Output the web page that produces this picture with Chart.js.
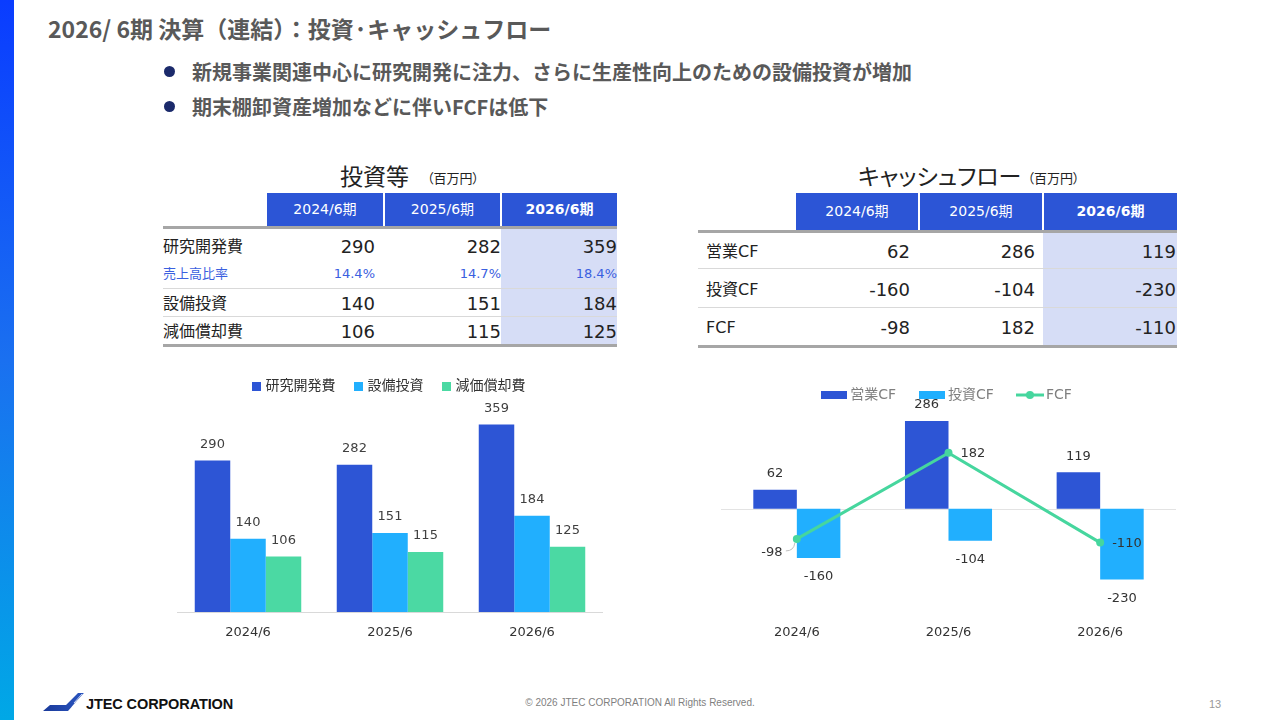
<!DOCTYPE html>
<html><head><meta charset="utf-8">
<script src="https://cdn.jsdelivr.net/npm/chart.js@4.4.1/dist/chart.umd.min.js"></script>
<style>
body{margin:0;width:1280px;height:720px;overflow:hidden;background:#fff;font-family:"Noto Sans CJK JP",sans-serif;position:relative}
#sidebar{position:absolute;left:0;top:0;width:14px;height:720px;background:linear-gradient(#0a3cff,#1a70f0 50%,#00a8e6)}
#title{position:absolute;left:48px;top:11px;font-size:23px;font-weight:bold;color:#595959;line-height:34px;white-space:nowrap}
.bullet{position:absolute;left:164px;font-size:20px;font-weight:bold;color:#595959;line-height:28px;white-space:nowrap}
.bullet .dot{position:absolute;left:0;top:8px;width:11px;height:11px;border-radius:50%;background:#1b2a6b}
.bullet .txt{margin-left:28px}
.ttl{position:absolute;font-size:23px;color:#222;line-height:30px;white-space:nowrap;font-feature-settings:"palt"}
.ttl small{font-size:13px;margin-left:18px;vertical-align:2px}
table{position:absolute;border-collapse:collapse;table-layout:fixed;font-family:"DejaVu Sans","Noto Sans CJK JP",sans-serif;color:#222}
th{background:#2c55d6;color:#fff;font-weight:normal;font-size:14px;padding:0;border-left:2px solid #fff;border-bottom:3px solid #a6a6a6}
th.blank{background:#fff;border-left:none}
th.cur{font-weight:bold}
th div,td div{overflow:visible;white-space:nowrap}
td{padding:0;font-size:18px;text-align:right;white-space:nowrap}
td span{position:relative}
td.lab{text-align:left;font-size:16px}
td.cur{background:#d6ddf6}
tr.pct td{font-size:13px;color:#3a60e0}
tr.sep td{border-bottom:1px solid #d9d9d9}
tr.last td{border-bottom:3px solid #a6a6a6}
canvas{position:absolute}
#foot{position:absolute;left:0;top:697px;width:1280px;text-align:center;font-family:"Liberation Sans",Arial,sans-serif;font-size:10px;color:#7f7f7f}
#page{position:absolute;left:1209px;top:698px;font-family:"Liberation Sans",Arial,sans-serif;font-size:11px;color:#999}
#logo{position:absolute;left:42px;top:692px}
#logotxt{position:absolute;left:86px;top:696px;font-family:"Liberation Sans",Arial,sans-serif;font-weight:bold;font-size:14.5px;color:#111;letter-spacing:-0.1px}
</style></head>
<body>
<div id="sidebar"></div>
<div id="title">2026/ 6期 決算（連結）：投資·キャッシュフロー</div>
<div class="bullet" style="top:58px"><span class="dot"></span><span class="txt">新規事業関連中心に研究開発に注力、さらに生産性向上のための設備投資が増加</span></div>
<div class="bullet" style="top:93px"><span class="dot"></span><span class="txt">期末棚卸資産増加などに伴いFCFは低下</span></div>

<div class="ttl" style="left:340px;top:160px">投資等<small>（百万円）</small></div>
<div class="ttl" style="left:858px;top:160px">キャッシュフロー<small style="margin-left:6px">（百万円）</small></div>

<table id="t1" style="left:163px;top:193px;width:454px"></table>
<table id="t2" style="left:698px;top:193px;width:479px"></table>

<canvas id="c1" width="426" height="290" style="left:177px;top:358px"></canvas>
<canvas id="c2" width="455" height="286" style="left:721px;top:361px"></canvas>

<svg id="logo" width="44" height="22" viewBox="0 0 44 22">
<defs><linearGradient id="lg" x1="0" x2="1"><stop offset="0" stop-color="#1a3a9a"/><stop offset="1" stop-color="#2a55c0"/></linearGradient></defs>
<polygon points="1,19 8,13 24,13 36,1 42,1 26,19" fill="url(#lg)"/>
<g stroke="#fff" stroke-width="0.8">
<line x1="28" y1="19" x2="44" y2="1"/><line x1="30" y1="15" x2="42" y2="1.5"/><line x1="32" y1="11" x2="40" y2="2"/>
</g>
</svg>
<div id="logotxt">JTEC CORPORATION</div>
<div id="foot">© 2026 JTEC CORPORATION All Rights Reserved.</div>
<div id="page">13</div>

<script>
// ---- data ----
const categories = ['2024/6', '2025/6', '2026/6'];
const periodLabels = ['2024/6期', '2025/6期', '2026/6期'];
const rdValues = [290, 282, 359];
const rdSalesRatio = ['14.4%', '14.7%', '18.4%'];
const capexValues = [140, 151, 184];
const deprValues = [106, 115, 125];
const operatingCF = [62, 286, 119];
const investingCF = [-160, -104, -230];
const freeCF = [-98, 182, -110];
const investLabels = ['研究開発費', '設備投資', '減価償却費'];
const cfLabels = ['営業CF', '投資CF', 'FCF'];

// ---- tables ----
function headRow(widths, h) {
  let s = '<colgroup>' + widths.map(w => `<col style="width:${w}px">`).join('') + '</colgroup>';
  const cell = t => `<div style="height:${h}px;line-height:${h}px">${t}</div>`;
  s += `<tr><th class="blank">${cell('')}</th>` +
    periodLabels.map((p, i) => `<th class="${i === 2 ? 'cur' : ''}">${cell(p)}</th>`).join('') + '</tr>';
  return s;
}
function valRow(label, vals, cls, h, dy, pads, padL) {
  const cell = (t, pr) => `<div style="height:${h}px;line-height:${h}px;padding-right:${pr}px"><span style="top:${dy}px">${t}</span></div>`;
  return `<tr class="${cls}"><td class="lab"><div style="height:${h}px;line-height:${h}px;padding-left:${padL}px"><span style="top:${dy}px">${label}</span></div></td>` +
    vals.map((v, i) => `<td class="${i === 2 ? 'cur' : ''}">${cell(v, pads[i])}</td>`).join('') + '</tr>';
}
const pads1 = [9, 0, 0];
document.getElementById('t1').innerHTML = headRow([103, 118, 117, 116], 33) +
  valRow(investLabels[0], rdValues, '', 31, 2, pads1, 0) +
  valRow('売上高比率', rdSalesRatio, 'pct sep', 28, 0, pads1, 0) +
  valRow(investLabels[1], capexValues, 'sep', 27, 1, pads1, 0) +
  valRow(investLabels[2], deprValues, 'last', 27, 1, pads1, 0);
const pads2 = [9, 8, 1];
document.getElementById('t2').innerHTML = headRow([97, 124, 124, 134], 37) +
  valRow(cfLabels[0], operatingCF, 'sep', 35, 1, pads2, 8) +
  valRow(cfLabels[1], investingCF, 'sep', 38, 2, pads2, 8) +
  valRow(cfLabels[2], freeCF, 'last', 37, 1, pads2, 8);

// ---- charts ----
const FONT = '"DejaVu Sans", "Noto Sans CJK JP", sans-serif';

const valueLabels = {
  id: 'valueLabels',
  beforeDatasetsDraw(chart, args, opts) {
    if (!opts.zeroLine) return;
    const y = chart.scales.y.getPixelForValue(0);
    const ctx = chart.ctx;
    ctx.save();
    ctx.strokeStyle = opts.zeroLine;
    ctx.lineWidth = 1;
    ctx.beginPath();
    ctx.moveTo(chart.chartArea.left, Math.round(y) + 0.5);
    ctx.lineTo(chart.chartArea.right, Math.round(y) + 0.5);
    ctx.stroke();
    ctx.restore();
  },
  afterDatasetsDraw(chart, args, opts) {
    const ctx = chart.ctx;
    ctx.save();
    ctx.font = opts.font;
    ctx.fillStyle = opts.color;
    ctx.textBaseline = 'middle';
    chart.data.datasets.forEach((ds, di) => {
      const meta = chart.getDatasetMeta(di);
      meta.data.forEach((el, i) => {
        const v = ds.data[i];
        const txt = String(v);
        if (meta.type === 'bar') {
          ctx.textAlign = 'center';
          const y = v >= 0 ? el.y - opts.above : el.y + opts.below;
          ctx.fillText(txt, el.x, y);
        } else {
          const side = (opts.lineSides || [])[i] || 'right';
          if (side === 'leftBelow') {
            ctx.textAlign = 'center';
            ctx.fillText(txt, el.x - 25, el.y + 14);
            ctx.strokeStyle = '#bfbfbf';
            ctx.lineWidth = 1;
            ctx.beginPath();
            ctx.moveTo(el.x - 11, el.y + 12);
            ctx.quadraticCurveTo(el.x - 3, el.y + 12, el.x - 2, el.y + 4);
            ctx.stroke();
          } else {
            ctx.textAlign = 'left';
            ctx.fillText(txt, el.x + 12, el.y + 1);
          }
        }
      });
    });
    ctx.restore();
  }
};

const C_RD = '#2d55d5', C_CAPEX = '#21affe', C_DEPR = '#4bd9a3', C_FCF = '#46d69e';

function rectIcon(color, w, h) {
  const c = document.createElement('canvas');
  c.width = w; c.height = h;
  const x = c.getContext('2d');
  x.fillStyle = color; x.fillRect(0, 0, w, h);
  return c;
}
function lineIcon(color) {
  const c = document.createElement('canvas');
  c.width = 28; c.height = 10;
  const x = c.getContext('2d');
  x.strokeStyle = color; x.lineWidth = 3;
  x.beginPath(); x.moveTo(0, 5); x.lineTo(28, 5); x.stroke();
  x.fillStyle = color; x.beginPath(); x.arc(14, 5, 4, 0, Math.PI * 2); x.fill();
  return c;
}
const investIcons = [rectIcon(C_RD, 9, 9), rectIcon(C_CAPEX, 9, 9), rectIcon(C_DEPR, 9, 9)];
const cfIcons = [rectIcon(C_RD, 26, 8), rectIcon(C_CAPEX, 26, 8), lineIcon(C_FCF)];
function iconLabels(icons) {
  return function (chart) {
    const items = Chart.defaults.plugins.legend.labels.generateLabels(chart);
    items.forEach(it => { it.pointStyle = icons[it.datasetIndex]; });
    return items;
  };
}

new Chart(document.getElementById('c1'), {
  type: 'bar',
  data: {
    labels: categories,
    datasets: [
      { label: investLabels[0], data: rdValues, backgroundColor: C_RD },
      { label: investLabels[1], data: capexValues, backgroundColor: C_CAPEX },
      { label: investLabels[2], data: deprValues, backgroundColor: C_DEPR }
    ]
  },
  options: {
    responsive: false, animation: false, devicePixelRatio: 1,
    layout: { padding: 0, autoPadding: false },
    datasets: { bar: { categoryPercentage: 0.75, barPercentage: 1 } },
    scales: {
      x: {
        grid: { display: false, drawTicks: false },
        border: { display: true, color: '#d9d9d9', width: 1 },
        ticks: { color: '#333', font: { size: 13, family: FONT }, padding: 13 },
        afterFit(s) { s.height = 36; }
      },
      y: { display: false, min: 0, max: 400 }
    },
    plugins: {
      legend: { labels: { usePointStyle: true, pointStyleWidth: 4, boxHeight: 9, padding: 21, color: '#333',
        font: { size: 14, family: FONT }, generateLabels: iconLabels(investIcons) } },
      tooltip: { enabled: false },
      valueLabels: { font: '13px ' + FONT, color: '#404040', above: 16, below: 19 }
    }
  },
  plugins: [valueLabels]
});

new Chart(document.getElementById('c2'), {
  type: 'bar',
  data: {
    labels: categories,
    datasets: [
      { label: cfLabels[0], data: operatingCF, backgroundColor: C_RD, order: 1 },
      { label: cfLabels[1], data: investingCF, backgroundColor: C_CAPEX, order: 1 },
      { type: 'line', label: cfLabels[2], data: freeCF, borderColor: C_FCF, backgroundColor: C_FCF,
        borderWidth: 3, pointRadius: 4, pointBackgroundColor: C_FCF, pointBorderWidth: 0, tension: 0, order: -1 }
    ]
  },
  options: {
    responsive: false, animation: false, devicePixelRatio: 1,
    layout: { padding: 0, autoPadding: false },
    datasets: { bar: { categoryPercentage: 0.574, barPercentage: 1 } },
    scales: {
      x: {
        grid: { display: false, drawTicks: false },
        border: { display: false },
        ticks: { color: '#333', font: { size: 13, family: FONT }, padding: 24 },
        afterFit(s) { s.height = 46; }
      },
      y: { display: false, min: -300, max: 315 }
    },
    plugins: {
      legend: {
        labels: {
          usePointStyle: true, pointStyleWidth: 18, boxHeight: 8, padding: 27, color: '#7f7f7f',
          font: { size: 14, family: FONT },
          sort: (a, b) => a.datasetIndex - b.datasetIndex,
          generateLabels: iconLabels(cfIcons)
        }
      },
      tooltip: { enabled: false },
      valueLabels: { font: '13px ' + FONT, color: '#333', above: 16, below: 19, zeroLine: '#e3e3e3', lineSides: ['leftBelow', 'right', 'right'] }
    }
  },
  plugins: [valueLabels]
});
</script>
</body></html>
